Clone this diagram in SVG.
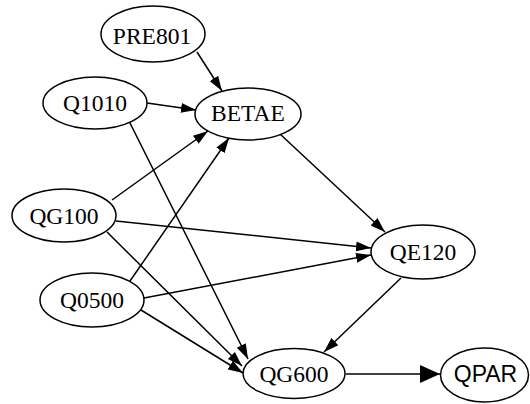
<svg xmlns="http://www.w3.org/2000/svg" width="530" height="404" viewBox="0 0 530 404">
<style>
.n ellipse{fill:#fff;stroke:#000;stroke-width:1.5}
.n text{font-family:"Liberation Serif","Times New Roman",serif;font-size:23.5px;text-anchor:middle;fill:#000}
.n.s text{font-family:"Liberation Sans",Arial,sans-serif;font-size:23px}
.e path{fill:none;stroke:#000;stroke-width:1.5}
</style>
<defs>
<marker id="a" markerUnits="userSpaceOnUse" markerWidth="16" markerHeight="12" refX="15" refY="5" orient="auto" viewBox="0 0 16 10">
<path d="M0,0 L15,5 L0,10 z" fill="#000"/>
</marker>
<marker id="b" markerUnits="userSpaceOnUse" markerWidth="22" markerHeight="20" refX="20" refY="9" orient="auto" viewBox="0 0 22 18">
<path d="M0,0 L20,9 L0,18 z" fill="#000"/>
</marker>
</defs>
<g class="e" id="edges">
<path d="M197,52 L222,91" marker-end="url(#a)"/>
<path d="M147,103 L196,110" marker-end="url(#a)"/>
<path d="M112,200 L208,131" marker-end="url(#a)"/>
<path d="M130,281 L229,138" marker-end="url(#a)"/>
<path d="M128,119 L248,359" marker-end="url(#a)"/>
<path d="M116,221 L371,248" marker-end="url(#a)"/>
<path d="M107,232 L242,366" marker-end="url(#a)"/>
<path d="M144,298 L371,255" marker-end="url(#a)"/>
<path d="M141,310 L243,373" marker-end="url(#a)"/>
<path d="M280,134 L385,232" marker-end="url(#a)"/>
<path d="M401,278 L324,352" marker-end="url(#a)"/>
<path d="M346,374 L440,374" marker-end="url(#b)"/>
</g>
<g class="n" id="PRE801"><ellipse cx="153" cy="34" rx="52" ry="28"/><text x="152" y="44">PRE801</text></g>
<g class="n" id="Q1010"><ellipse cx="95" cy="103" rx="52" ry="26"/><text x="95" y="111">Q1010</text></g>
<g class="n" id="BETAE"><ellipse cx="248" cy="114" rx="53" ry="26"/><text x="248" y="121">BETAE</text></g>
<g class="n" id="QG100"><ellipse cx="64" cy="215.5" rx="52" ry="26.5"/><text x="64" y="224">QG100</text></g>
<g class="n" id="Q0500"><ellipse cx="92" cy="300" rx="52" ry="27"/><text x="92" y="308">Q0500</text></g>
<g class="n" id="QE120"><ellipse cx="423" cy="252" rx="52" ry="27"/><text x="423" y="260">QE120</text></g>
<g class="n" id="QG600"><ellipse cx="294" cy="373.5" rx="51" ry="25"/><text x="294" y="382">QG600</text></g>
<g class="n s" id="QPAR"><ellipse cx="484.5" cy="375" rx="44" ry="27"/><text x="485.5" y="382">QPAR</text></g>
</svg>
